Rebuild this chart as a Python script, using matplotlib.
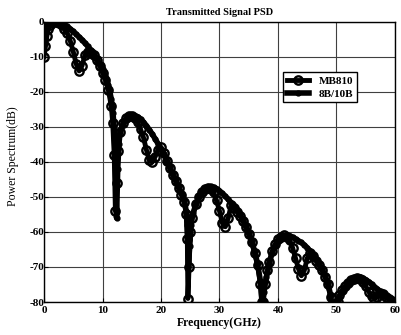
import matplotlib
matplotlib.use("Agg")
import matplotlib.pyplot as plt

plt.rcParams['font.family'] = ['Liberation Serif', 'DejaVu Serif']

# 8B/10B series (frequency GHz, PSD dB)
f_8b10b = [0, 0.25, 0.5, 1, 1.5, 2, 2.5, 3, 3.5, 4, 4.5, 5, 5.5, 6, 6.5, 7, 7.5, 8, 8.5, 9,
           9.5, 10, 10.5, 11, 11.5, 11.8, 12.0, 12.2, 12.4,
           12.6, 12.8, 13, 13.5, 14, 14.5, 15, 15.5, 16, 16.5, 17, 17.5, 18, 18.5, 19, 19.5, 20, 20.5, 21, 21.5,
           22, 22.5, 23, 23.5, 24, 24.3, 24.5, 24.7,
           24.9, 25.1, 25.5, 26, 26.5, 27, 27.5, 28, 28.5, 29, 29.5, 30, 30.5, 31, 31.5, 32, 32.5, 33, 33.5, 34,
           34.5, 35, 35.5, 36, 36.5, 37, 37.3,
           37.6, 38, 38.5, 39, 39.5, 40, 40.5, 41, 41.5, 42, 42.5, 43, 43.5, 44, 44.5, 45, 45.5, 46, 46.5, 47,
           47.5, 48, 48.5, 49, 49.3,
           49.8, 50.2, 50.5, 51, 51.5, 52, 52.5, 53, 53.5, 54, 54.5, 55, 55.5, 56, 56.5, 57, 57.5, 58, 58.5, 59,
           59.5, 60]
p_8b10b = [-4, -2, -1, -0.2, 0, 0, 0, -0.3, -0.8, -1.3, -2, -2.7, -3.5, -4.3, -5.1, -6, -7, -8, -9.2, -10.5,
           -12, -13.5, -15.5, -18, -22, -26, -31, -40, -56,
           -42, -35, -31.5, -29.3, -27.8, -27.2, -26.8, -26.8, -27.1, -27.7, -28.6, -29.6, -30.8, -32, -33.4, -34.8, -36.2, -37.7, -39.6, -41.5,
           -43.5, -45, -47, -49, -51, -54, -58, -70,
           -64, -58, -54.5, -52, -50, -48.5, -47.6, -47.1, -47, -47.2, -47.6, -48.2, -49, -49.8, -50.7, -51.6, -52.6, -53.7, -55, -56.5,
           -58.2, -60.2, -62.5, -65.5, -69, -74, -80,
           -77, -73, -69, -66, -64, -62.6, -61.7, -61.2, -61, -61.1, -61.5, -62, -62.5, -63, -63.7, -64.5, -65.5, -66.5, -67.8, -69,
           -70.5, -72.3, -74.5, -78, -82,
           -84, -80, -78.5, -77, -75.8, -74.8, -74, -73.5, -73.2, -73, -73.2, -73.6, -74.2, -74.9, -75.6, -76.3, -77, -77.7, -78.4, -79,
           -79.6, -80.3]

# MB810 series
f_mb810 = [0, 0.25, 0.5, 0.75, 1, 1.5, 2, 2.5, 3, 3.5, 4, 4.5, 5, 5.5, 6, 6.5, 7, 7.5, 8, 8.5,
           9, 9.5, 10, 10.5, 11, 11.5, 11.75, 12.0, 12.2, 12.4,
           12.6, 13, 13.5, 14, 14.5, 15, 15.5, 16, 16.5, 17, 17.5, 18, 18.5, 19, 19.5, 20, 20.5, 21, 21.5, 22,
           22.5, 23, 23.5, 24, 24.3, 24.5, 24.6,
           24.8, 25, 25.3, 26, 26.5, 27, 27.5, 28, 28.5, 29, 29.5, 30, 30.5, 31, 31.5, 32, 32.5, 33, 33.5, 34,
           34.5, 35, 35.5, 36, 36.5, 37, 37.2,
           37.5, 37.8, 38.2, 38.5, 39, 39.5, 40, 40.5, 41, 41.5, 42, 42.5, 43, 43.5, 44, 44.5, 45, 45.5, 46, 46.5,
           47, 47.5, 48, 48.5, 49, 49.2,
           50.2, 50.5, 51, 51.5, 52, 52.5, 53, 53.5, 54, 54.5, 55, 55.5, 56, 56.5, 57, 57.5, 58, 58.5, 59, 59.5,
           60]
p_mb810 = [-10, -7, -4, -2, -0.8, 0, 0, -0.3, -1, -2, -3.3, -5.5, -8.5, -12, -14, -12.5, -9.5, -8.5, -8.8, -9.5,
           -11, -12.5, -14.5, -16.5, -19.5, -24, -29, -38, -54, -46,
           -37, -31.5, -28.8, -27.5, -26.8, -26.8, -27.3, -28.6, -30.6, -33, -36.5, -39.5, -40, -38.5, -36.5, -35.8, -37.3, -39.8, -41.8, -43.8,
           -45.5, -47.5, -49.5, -51.5, -55, -62, -79,
           -70, -60, -56, -52, -50, -48.5, -47.6, -47.3, -47.6, -48.7, -51, -54, -57.5, -58.5, -56, -52.3, -53.2, -54.2, -55.5, -57,
           -58.7, -60.7, -63, -66, -69.5, -75, -80,
           -80, -75, -71, -68.5, -65.5, -63.5, -62, -61.3, -61, -61.3, -62.3, -64.5, -67.5, -70.5, -72.5, -71, -67.5, -66, -67, -68.3,
           -69.5, -71, -72.8, -75, -78.5, -82,
           -80, -78, -76.5, -75.5, -74.5, -73.8, -73.3, -73.2, -73.5, -74.3, -75.5, -77, -78.3, -79, -78.5, -77.5, -77.8, -78.5, -79.2, -79.8,
           -80.5]

x_ticks = [0, 10, 20, 30, 40, 50, 60]
y_ticks = [0, -10, -20, -30, -40, -50, -60, -70, -80]

fig = plt.figure(figsize=(4.02, 3.35), dpi=100)
ax = fig.add_axes([0.1095, 0.0985, 0.873, 0.836])

ax.plot(f_mb810, p_mb810, '-o', color='k', lw=3.5, ms=6, mfc='none', mec='k', mew=1.7,
        label='MB810', zorder=3)
ax.plot(f_8b10b, p_8b10b, '-', marker='.', color='k', lw=4, ms=7, label='8B/10B', zorder=3)

ax.set_xlim(0, 60)
ax.set_ylim(-80, 0)
ax.set_xticks(x_ticks)
ax.set_yticks(y_ticks)
ax.set_xticklabels([str(v) for v in x_ticks], fontsize=8, fontweight='bold')
ax.set_yticklabels([str(v) for v in y_ticks], fontsize=8, fontweight='bold')
ax.tick_params(axis='y', direction='in', length=3, width=0.8, pad=0, colors='k')
ax.tick_params(axis='x', direction='in', length=3, width=0.8, pad=3, colors='k')
ax.grid(True, color='0.25', lw=0.8, ls='-')
ax.set_axisbelow(True)
for sp in ax.spines.values():
    sp.set_linewidth(1.0)
    sp.set_color('k')

ax.set_title('Transmitted Signal PSD', fontsize=7.5, fontweight='bold', pad=5)
ax.set_xlabel('Frequency(GHz)', fontsize=8.5, fontweight='bold', labelpad=1)
ax.set_ylabel('Power Spectrum(dB)', fontsize=8.5)
ax.yaxis.set_label_coords(-0.072, 0.52)

leg = ax.legend(loc='upper left', bbox_to_anchor=(0.68, 0.82), fontsize=8, frameon=True,
                fancybox=False, edgecolor='k', framealpha=1, borderpad=0.35, labelspacing=0.25,
                handlelength=2.0, handletextpad=0.9, borderaxespad=0)
leg.get_frame().set_linewidth(1.0)
for t in leg.get_texts():
    t.set_fontweight('bold')

fig.savefig('out.png', dpi=100)
